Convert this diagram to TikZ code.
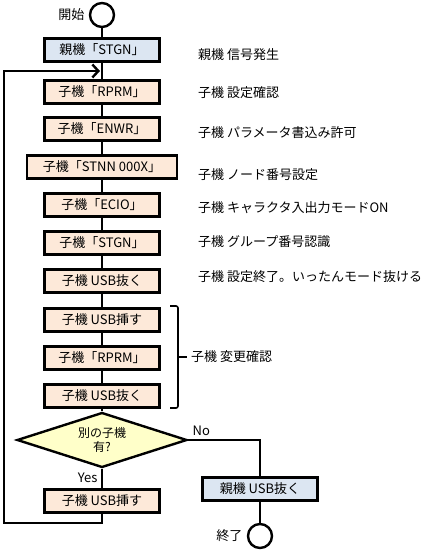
\documentclass[tikz,border=0pt]{standalone}
\usepackage{fontspec}
\setmainfont{Noto Sans CJK JP}
\usetikzlibrary{shapes.geometric,arrows.meta}
\definecolor{kobox}{HTML}{FDE9D9}
\definecolor{oyabox}{HTML}{DCE6F2}
\definecolor{qbox}{HTML}{FFFFC9}

\begin{document}
\begin{tikzpicture}[x=1pt,y=-1pt,line width=2.4pt,
    font=\fontsize{13}{15}\selectfont,
    ko/.style={draw,fill=kobox,minimum width=115pt,minimum height=23pt,inner sep=1pt},
    oya/.style={ko,fill=oyabox},
    memo/.style={anchor=west,inner sep=0pt}]
  \useasboundingbox (0,0) rectangle (430,554);

  \node[circle,draw,minimum size=24pt,inner sep=0pt] (start) at (102,15) {};
  \node[anchor=east] at (start.west) {開始};

  \node[oya] (A) at (102,50) {親機「STGN」};
  \node[ko] (B) at (102,92) {子機「RPRM」};
  \node[ko] (C) at (102,129) {子機「ENWR」};
  \node[ko,minimum width=150pt] (D) at (102,167) {子機「STNN 000X」};
  \node[ko] (E) at (102,205) {子機「ECIO」};
  \node[ko] (F) at (102,243) {子機「STGN」};
  \node[ko] (G) at (102,281) {子機 USB抜く};
  \node[ko] (H) at (102,320) {子機 USB挿す};
  \node[ko] (I) at (102,358) {子機「RPRM」};
  \node[ko] (J) at (102,396) {子機 USB抜く};
  \node[diamond,draw,fill=qbox,aspect=3.15,minimum width=170pt,minimum height=55pt,
    inner sep=0pt,align=center,font=\fontsize{12}{14}\selectfont] (Q) at (102,440) {別の子機\\有?};
  \node[ko] (K) at (102,501) {子機 USB挿す};
  \node[oya] (L) at (260,489) {親機 USB抜く};
  \node[circle,draw,minimum size=24pt,inner sep=0pt] (stop) at (260,536) {};
  \node[anchor=east] at (stop.west) {終了};

  \node[memo] at (197,55) {親機 信号発生};
  \node[memo] at (197,93) {子機 設定確認};
  \node[memo] at (197,133) {子機 パラメータ書込み許可};
  \node[memo] at (197,175) {子機 ノード番号設定};
  \node[memo] at (197,208) {子機 キャラクタ入出力モードON};
  \node[memo] at (197,242) {子機 グループ番号認識};
  \node[memo] at (197,277) {子機 設定終了。いったんモード抜ける};

  \draw (start) -- (A) -- (B) -- (C) -- (D) -- (E) -- (F) -- (G) -- (H) -- (I) -- (J) -- (Q);
  \draw (Q) -- (K);
  \draw (Q.east) -| (L);
  \draw (L) -- (stop);
  \node[anchor=north east] at (Q.south) {Yes};
  \node[anchor=south west] at (Q.east) {No};

  \coordinate (back) at (4,523);
  \coordinate (entry) at (100,71);
  \draw[-{Straight Barb[length=6pt,width=13pt]}] (K) -- (K |- back) -- (back) |- (entry);

  \draw[line width=1.6pt,rounded corners=2pt] (170,306) -- (178,306) -- (178,408) -- (170,408);
  \draw[line width=1.6pt] (178,357) -- (187,357) node[anchor=west] {子機 変更確認};
\end{tikzpicture}
\end{document}
